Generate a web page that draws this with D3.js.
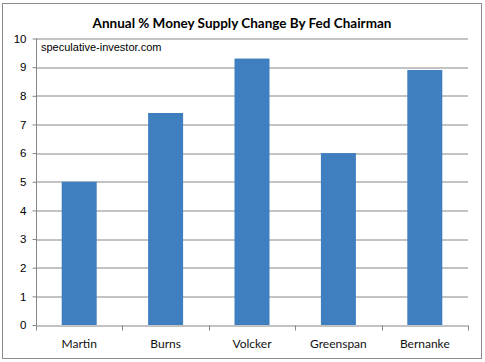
<!DOCTYPE html>
<html>
<head>
<meta charset="utf-8">
<script src="https://cdn.jsdelivr.net/npm/d3@7"></script>
<style>
body { margin: 0; background: #fff; }
</style>
</head>
<body>
<div id="chart"></div>
<script>
var chairmen = ["Martin", "Burns", "Volcker", "Greenspan", "Bernanke"];
var growth = [5.0, 7.4, 9.3, 6.0, 8.9];
var yTicks = [0, 1, 2, 3, 4, 5, 6, 7, 8, 9, 10];

var width = 485, height = 362;
var margin = {top: 38.5, right: 17, bottom: 37, left: 36};
var innerW = width - margin.left - margin.right;
var innerH = height - margin.top - margin.bottom;

var svg = d3.select("#chart")
  .append("svg")
  .attr("width", width)
  .attr("height", height);

// chart border
svg.append("rect")
  .attr("x", 2.5).attr("y", 3.5)
  .attr("width", 479).attr("height", 355)
  .attr("fill", "#fff")
  .attr("stroke", "#8c8c8c")
  .attr("stroke-width", 1);

svg.append("text")
  .attr("x", 242)
  .attr("y", 28)
  .attr("text-anchor", "middle")
  .attr("font-family", "Lato, 'Open Sans', sans-serif")
  .attr("font-weight", "bold")
  .attr("font-size", "13.5px")
  .attr("fill", "#000")
  .text("Annual % Money Supply Change By Fed Chairman");

var g = svg.append("g")
  .attr("transform", "translate(" + margin.left + "," + margin.top + ")");

var x = d3.scaleBand()
  .domain(chairmen)
  .range([0, innerW])
  .paddingInner(0.595)
  .paddingOuter(0.2975);

var y = d3.scaleLinear()
  .domain([0, 10])
  .range([innerH, 0]);

// gridlines
g.append("g")
  .selectAll("line")
  .data(yTicks.slice(1))
  .enter().append("line")
  .attr("x1", 0).attr("x2", innerW)
  .attr("y1", function(d) { return Math.round(y(d)) + 0.5; })
  .attr("y2", function(d) { return Math.round(y(d)) + 0.5; })
  .attr("stroke", "#868686");

// bars
g.selectAll(".bar")
  .data(growth)
  .enter().append("rect")
  .attr("class", "bar")
  .attr("x", function(d, i) { return x(chairmen[i]); })
  .attr("y", function(d) { return y(d); })
  .attr("width", x.bandwidth())
  .attr("height", function(d) { return innerH - y(d); })
  .attr("fill", "#3f7fc0");

// Y axis
var yAxis = g.append("g")
  .attr("transform", "translate(0.5,0)")
  .call(d3.axisLeft(y).tickValues(yTicks).tickSize(4).tickPadding(6).tickFormat(d3.format("d")));
yAxis.selectAll("line").attr("stroke", "#868686");
yAxis.select(".domain").attr("stroke", "#868686").attr("d", "M0," + innerH + "V0");
yAxis.selectAll("text")
  .attr("font-family", "'Liberation Sans', Arial, sans-serif")
  .attr("font-size", "11.5px")
  .attr("fill", "#000");

// X axis
var xAxis = g.append("g")
  .attr("transform", "translate(0," + (Math.round(innerH) + 0.5) + ")")
  .call(d3.axisBottom(x).tickSize(0).tickPadding(13));
xAxis.select(".domain").attr("stroke", "#868686").attr("d", "M0,0H" + innerW);
xAxis.selectAll("text")
  .attr("font-family", "Lato, 'Open Sans', sans-serif")
  .attr("font-size", "12px")
  .attr("fill", "#111");

// category boundary ticks
g.append("g")
  .selectAll("line")
  .data(d3.range(chairmen.length + 1))
  .enter().append("line")
  .attr("x1", function(i) { return Math.round(i * x.step()) + 0.5; })
  .attr("x2", function(i) { return Math.round(i * x.step()) + 0.5; })
  .attr("y1", Math.round(innerH))
  .attr("y2", Math.round(innerH) + 5)
  .attr("stroke", "#868686");

// watermark
g.append("text")
  .attr("x", 5)
  .attr("y", 12)
  .attr("font-family", "'Liberation Sans', Arial, sans-serif")
  .attr("font-size", "11px")
  .attr("fill", "#000")
  .text("speculative-investor.com");
</script>
</body>
</html>
